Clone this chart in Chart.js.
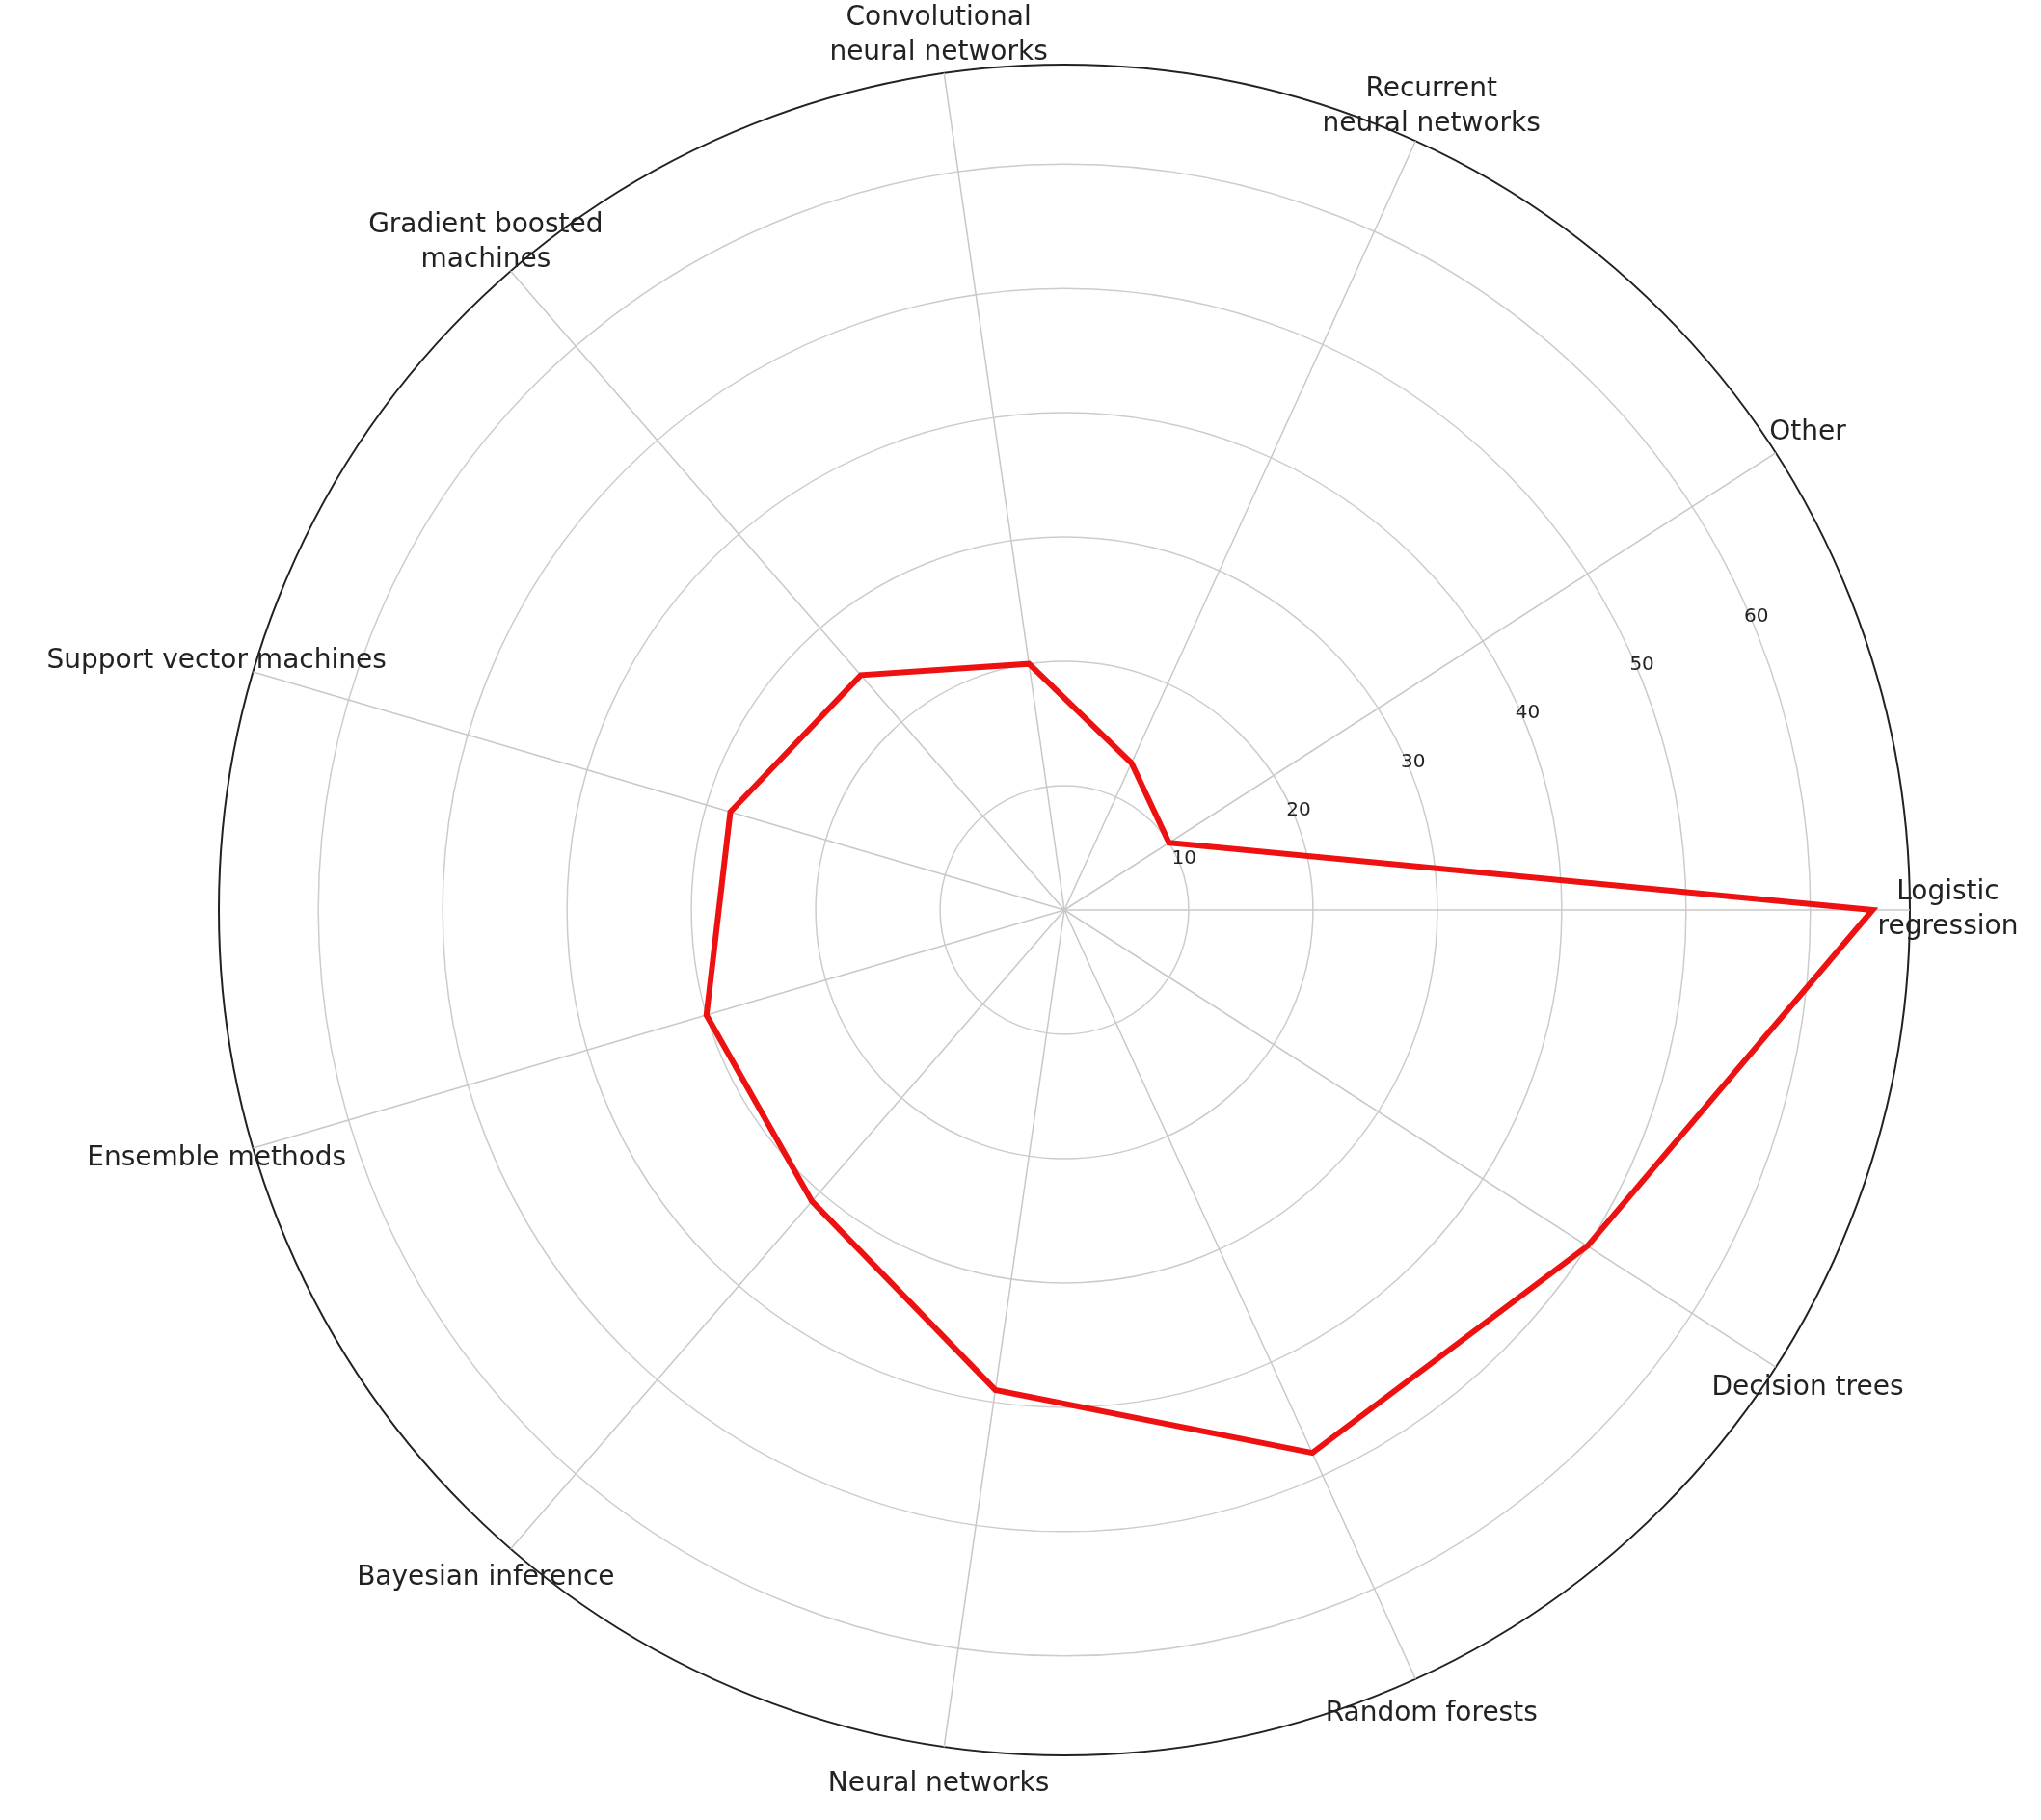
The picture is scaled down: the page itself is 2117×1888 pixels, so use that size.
<!DOCTYPE html>
<html><head><meta charset="utf-8">
<script src="https://cdn.jsdelivr.net/npm/chart.js@4"></script>
<style>html,body{margin:0;background:#fff}#w{width:2117px;height:1888px}</style>
</head><body><div id="w"><canvas id="c"></canvas></div>
<script>
const categories = [["Logistic","regression"],"Decision trees","Random forests","Neural networks","Bayesian inference","Ensemble methods","Support vector machines",["Gradient boosted","machines"],["Convolutional","neural networks"],["Recurrent","neural networks"],"Other"];
const values = [65,50,48,39,31,30,28,25,20,13,10];
const tickLabels = [10,20,30,40,50,60];
const tickPlugin = {id:'tk',afterDatasetsDraw(ch){
  const s=ch.scales.r,ctx=ch.ctx;ctx.save();
  ctx.font='20px "DejaVu Sans"';ctx.fillStyle='#222';ctx.textAlign='center';ctx.textBaseline='middle';
  const a=23*Math.PI/180;
  tickLabels.forEach(v=>{const r=s.getDistanceFromCenterForValue(v)+6;
    ctx.fillText(String(v),s.xCenter+r*Math.cos(a),s.yCenter-r*Math.sin(a));});
  ctx.font='28px "DejaVu Sans"';
  const R=s.drawingArea*1.045, n=categories.length;
  categories.forEach((lab,i)=>{
    const ang=(i*360/n)*Math.PI/180; // counterclockwise? labels go clockwise from east
    const x=s.xCenter+R*Math.cos(ang), y=s.yCenter+R*Math.sin(ang);
    const lines=Array.isArray(lab)?lab:[lab], lh=36;
    lines.forEach((t,k)=>ctx.fillText(t,x,y+(k-(lines.length-1)/2)*lh));
  });
  ctx.restore();}};
new Chart(document.getElementById('c'),{type:'radar',
 data:{labels:categories,datasets:[{data:values,borderColor:'#ee1111',borderWidth:6,fill:false,pointRadius:0,tension:0}]},
 options:{responsive:true,maintainAspectRatio:false,animation:false,
  layout:{padding:{top:67,bottom:67,left:100,right:8}},
  plugins:{legend:{display:false},tooltip:{enabled:false}},
  scales:{r:{min:0,max:68,startAngle:90,
   ticks:{display:false,stepSize:10},
   grid:{circular:true,color:c=>c.tick&&c.tick.value===68?'#222':'#cccccc',lineWidth:c=>c.tick&&c.tick.value===68?2:1.5},
   angleLines:{color:'#c8c8c8',lineWidth:1.5},
   pointLabels:{display:false}}}},
 plugins:[tickPlugin]});
</script></body></html>
